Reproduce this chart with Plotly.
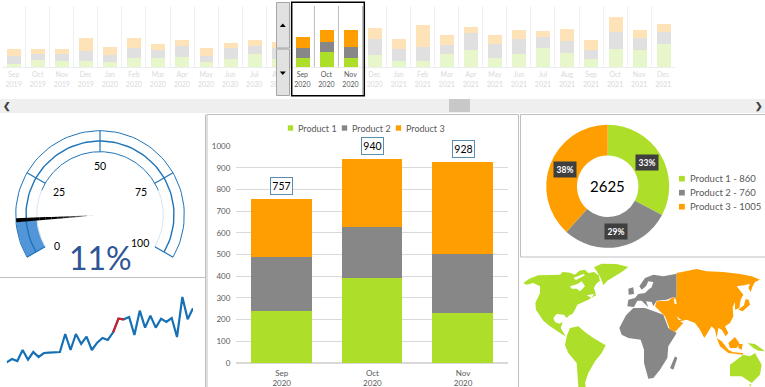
import numpy as np
import plotly.graph_objects as go

W, H = 765, 387
FONT = "Lato"

# ---------- data ----------
months = ["Sep", "Oct", "Nov", "Dec", "Jan", "Feb", "Mar", "Apr", "May", "Jun", "Jul", "Aug",
          "Sep", "Oct", "Nov", "Dec", "Jan", "Feb", "Mar", "Apr", "May", "Jun", "Jul", "Aug",
          "Sep", "Oct", "Nov", "Dec"]
years = [2019] * 4 + [2020] * 12 + [2021] * 12
product1 = [76, 178, 152, 152, 127, 228, 228, 254, 127, 203, 330, 203,
            240, 392, 228, 304, 152, 152, 330, 431, 228, 330, 482, 355, 203, 457, 431, 584]
product2 = [203, 152, 178, 254, 178, 254, 203, 279, 152, 279, 203, 279,
            250, 236, 274, 406, 305, 355, 228, 431, 355, 380, 279, 305, 228, 431, 305, 305]
product3 = [178, 127, 127, 330, 203, 254, 152, 152, 203, 127, 152, 152,
            267, 312, 426, 279, 254, 558, 254, 152, 228, 228, 152, 305, 254, 380, 203, 203]
selected = [12, 13, 14]
product_names = ["Product 1", "Product 2", "Product 3"]
gauge_value = 11
gauge_ticks = [0, 25, 50, 75, 100]
gauge_label_radius = [53, 47, 49, 47, 49]
gauge_label_value = [-2.5, 25, 50, 75, 102]
trend = [38, 48, 42, 75, 46, 69, 54, 66, 67, 68, 69, 123, 75, 123, 93, 115, 75, 97,
         111, 105, 128, 169, 167, 174, 120, 193, 142, 178, 142, 169, 159, 171, 114, 234, 167, 200]
trend_red = [20, 21, 22]

# world outline lists, x then y pairs on a 735 x 387 sheet
americas = [(10,75),(28,62),(55,52),(85,52),(120,50),(128,42),(150,44),(165,50),(178,38),(195,35),(205,45),(222,42),
            (236,52),(240,68),(228,78),(222,90),(228,112),(205,125),(190,132),(172,140),(165,155),(158,167),(148,172),
            (140,180),(132,170),(110,168),(100,180),(105,192),(118,197),(128,192),(122,210),(132,228),(137,235),(125,228),
            (105,215),(90,205),(70,188),(62,175),(48,155),(46,135),(60,105),(60,85),(40,75),(20,80)]
greenland = [(222,28),(245,17),(290,18),(325,27),(305,42),(285,55),(262,68),(250,82),(243,62),(232,42)]
south_america = [(150,210),(175,205),(195,222),(220,240),(257,262),(245,285),(225,310),(205,345),(195,375),(197,387),
                 (175,387),(172,340),(170,315),(145,285),(135,262),(140,235)]
australia = [(630,320),(670,290),(690,295),(705,285),(725,320),(720,350),(695,375),(665,355),(630,355)]
new_guinea = [(683,255),(705,258),(735,280),(715,278),(700,270)]
tasmania = [(688,378),(695,380),(690,386)]
africa = [(298,210),(318,172),(340,150),(375,150),(410,163),(430,170),(445,210),(470,225),(445,265),(442,300),
          (420,335),(400,360),(385,362),(372,315),(372,275),(362,245),(325,240),(305,230)]
madagascar = [(465,295),(472,300),(460,335),(450,330)]
europe = [(470,47),(430,55),(400,50),(375,60),(358,85),(365,95),(378,85),(385,70),(400,72),(395,88),(385,95),(375,105),
          (355,108),(345,120),(325,125),(322,145),(342,147),(352,128),(365,128),(385,148),(378,130),(395,132),(400,145),
          (410,128),(440,125),(458,118),(470,120)]
britain = [(325,92),(340,88),(342,108),(326,110)]
asia = [(470,45),(530,33),(560,40),(610,42),(660,48),(695,55),(720,65),(705,72),(698,85),(692,102),(685,90),(690,78),
        (672,82),(650,85),(662,100),(670,110),(662,125),(658,150),(645,155),(645,132),(638,148),(640,175),(630,195),
        (615,205),(625,225),(617,235),(605,215),(595,210),(590,240),(585,215),(575,205),(553,240),(540,215),(525,195),
        (500,185),(480,190),(490,195),(465,222),(450,215),(435,175),(425,165),(405,145),(410,130),(445,128),(458,118),(470,120)]
japan = [(677,123),(686,125),(690,140),(668,160),(655,155),(672,142)]
sumatra = [(590,240),(605,250),(625,275),(640,283),(670,285),(668,290),(625,285),(600,265)]
borneo = [(625,255),(645,237),(658,255),(650,270),(630,270)]
sulawesi = [(655,258),(668,258),(665,275),(655,270)]
hudson = [(150,85),(172,78),(185,70),(195,85),(180,100),(170,92),(155,92)]
st_lawrence = [(200,112),(222,108),(215,120)]
arctic_gap = [(160,60),(190,48),(195,52),(168,66)]
caspian = [(461,122),(467,122),(470,138),(464,138)]
gulf = [(470,175),(484,186),(476,186)]

# ---------- colours ----------
GREEN, GREY, ORANGE = "#ADDF2A", "#878787", "#FF9E00"
PALE = ["#E8F6CC", "#E0E0E0", "#FFE3B8"]
BLUE = "#1F74B8"
colors = [GREEN, GREY, ORANGE]
series = [product1, product2, product3]

fig = go.Figure()
shapes, annotations = [], []
axis_count = 0


def fx(px):
    return px / W


def fy(py):
    return 1 - py / H


def add_axes(x0, x1, y0, y1, xcfg=None, ycfg=None):
    """Create one x/y axis pair on the pixel box (y0 top, y1 bottom)."""
    global axis_count
    axis_count += 1
    s = "" if axis_count == 1 else str(axis_count)
    base = dict(visible=False, fixedrange=True)
    xa = dict(base, domain=[fx(x0), fx(x1)], anchor="y" + s)
    ya = dict(base, domain=[fy(y1), fy(y0)], anchor="x" + s)
    xa.update(xcfg or {})
    ya.update(ycfg or {})
    fig.update_layout({"xaxis" + s: xa, "yaxis" + s: ya})
    return "x" + s, "y" + s


def rect(x0, y0, x1, y1, fill=None, line=None, width=1, layer="above"):
    shapes.append(dict(type="rect", xref="paper", yref="paper", x0=fx(x0), x1=fx(x1), y0=fy(y1), y1=fy(y0),
                       fillcolor=fill or "rgba(0,0,0,0)", layer=layer,
                       line=dict(color=line or "rgba(0,0,0,0)", width=width if line else 0)))


def tri(cx_, cy_, up, color="#000000"):
    d = -1 if up else 1
    pts = [(cx_ - 3, cy_ - d * 1.5), (cx_ + 3, cy_ - d * 1.5), (cx_, cy_ + d * 2)]
    path = "M " + " L ".join(f"{fx(a):.5f} {fy(b):.5f}" for a, b in pts) + " Z"
    shapes.append(dict(type="path", xref="paper", yref="paper", path=path, fillcolor=color, line=dict(width=0),
                       layer="above"))


def text(x, y, s, size, color="#000000", xanchor="center", **kw):
    annotations.append(dict(xref="paper", yref="paper", x=fx(x), y=fy(y), text=s, showarrow=False,
                            xanchor=xanchor, yanchor="middle",
                            font=dict(family=FONT, size=size, color=color), **kw))


# ---------- panels ----------
rect(0, 99, W, 113, fill="#EFEFEF", layer="below")
rect(449, 99, 470, 112, fill="#C8C8C8", layer="below")
rect(207, 114.5, 518.5, 390, line="#BFBFBF", layer="below")
rect(520.5, 114.5, 770, 257, line="#BFBFBF", layer="below")
rect(-5, 277.5, 205.5, 392, line="#BFBFBF", layer="below")
shapes.append(dict(type="line", xref="paper", yref="paper", x0=fx(205.5), x1=fx(205.5), y0=fy(114.5), y1=fy(277.5),
                   line=dict(color="#BFBFBF", width=1), layer="below"))
text(7, 106, "<b>❮</b>", 9, "#404040")
text(759, 106, "<b>❯</b>", 9, "#404040")

# ---------- top strip ----------
n = len(months)
idx = list(range(n))
tick_text = [
    f'<span style="color:{"#595959" if i in selected else "#D9D9D9"}">{months[i]}<br>{years[i]}</span>' for i in idx
]
xs, ys = add_axes(1.6, 1.6 + n * 24.06, 6, 67,
                  dict(visible=True, range=[-0.5, n - 0.5], tickmode="array", tickvals=idx, ticktext=tick_text,
                       showgrid=False, zeroline=False, showline=True, linecolor="#EDEDED", ticks="",
                       tickfont=dict(family=FONT, size=7), tickangle=0, ticklabelstandoff=1,
                       minor=dict(tickmode="array", tickvals=[i - 0.5 for i in idx] + [n - 0.5], showgrid=True,
                                  gridcolor="#F0F0F0", gridwidth=1, ticks="")),
                  dict(range=[0, 1550]))
for name, vals, col, pale in zip(product_names, series, colors, PALE):
    fig.add_trace(go.Bar(x=idx, y=vals, name=name, xaxis=xs, yaxis=ys, width=0.58, showlegend=False,
                         marker=dict(color=[col if i in selected else pale for i in idx], line=dict(width=0)),
                         hoverinfo="skip"))
for b in (selected[0] + 0.5, selected[1] + 0.5, selected[2] + 0.5):
    shapes.append(dict(type="line", xref=xs, yref="paper", x0=b, x1=b, y0=fy(6), y1=fy(95 if b > selected[1] + 1 else 67),
                       line=dict(color="#BEBEBE", width=1), layer="above"))
rect(291.7, 2.3, 364.3, 95.7, line="#000000", width=1.5)
rect(276.5, 2.5, 289.5, 48, fill="#E1E1E1", line="#A6A6A6")
rect(276.5, 49, 289.5, 95.5, fill="#E1E1E1", line="#A6A6A6")
tri(282.8, 25.5, True)
tri(282.8, 73, False)

# ---------- gauge ----------
gx, gy = add_axes(0, 205, 114, 277, dict(range=[-100, 105]), dict(range=[-62, 101]))


def angle(v):
    return np.deg2rad(210 - 2.4 * np.asarray(v, dtype=float))


def arc(r, v0, v1, color, width):
    t = angle(np.linspace(v0, v1, 80))
    fig.add_trace(go.Scatter(x=r * np.cos(t), y=r * np.sin(t), mode="lines", xaxis=gx, yaxis=gy, showlegend=False,
                             line=dict(color=color, width=width), hoverinfo="skip"))


t_fill = angle(np.linspace(0, gauge_value, 20))
fig.add_trace(go.Scatter(x=np.r_[84 * np.cos(t_fill), 63.3 * np.cos(t_fill[::-1])],
                         y=np.r_[84 * np.sin(t_fill), 63.3 * np.sin(t_fill[::-1])],
                         mode="lines", fill="toself", fillcolor="#5295D8", line=dict(width=0), xaxis=gx, yaxis=gy,
                         showlegend=False, hoverinfo="skip"))
arc(84.3, 0, 100, BLUE, 1)
arc(74, 0, 100, BLUE, 1.4)
arc(63.3, 22, 78, BLUE, 1)
arc(63.3, 0, 22, "#D5E5F3", 1)
arc(63.3, 78, 100, "#D5E5F3", 1)
for v in gauge_ticks:
    t = float(angle(v))
    fig.add_trace(go.Scatter(x=[63.3 * np.cos(t), 84.3 * np.cos(t)], y=[63.3 * np.sin(t), 84.3 * np.sin(t)],
                             mode="lines", line=dict(color=BLUE, width=1.2), xaxis=gx, yaxis=gy, showlegend=False,
                             hoverinfo="skip"))
# needle: dark at the rim, fading to the hub
ta = float(angle(gauge_value))
dirx, diry = np.cos(ta), np.sin(ta)
edges = np.linspace(1, 84, 15)
for i in range(14):
    r0, r1 = edges[i], edges[i + 1]
    w0, w1 = r0 * 2 / 84, r1 * 2 / 84
    shade = int(max(0, 200 - 200 * min(1, r1 / 45)))
    fig.add_trace(go.Scatter(
        x=[r0 * dirx - w0 * diry, r1 * dirx - w1 * diry, r1 * dirx + w1 * diry, r0 * dirx + w0 * diry],
        y=[r0 * diry + w0 * dirx, r1 * diry + w1 * dirx, r1 * diry - w1 * dirx, r0 * diry - w0 * dirx],
        mode="lines", fill="toself", fillcolor=f"rgb({shade},{shade},{shade})", line=dict(width=0),
        xaxis=gx, yaxis=gy, showlegend=False, hoverinfo="skip"))
for v, lv, r in zip(gauge_ticks, gauge_label_value, gauge_label_radius):
    t = float(angle(lv))
    annotations.append(dict(xref=gx, yref=gy, x=r * np.cos(t), y=r * np.sin(t), text=str(v), showarrow=False,
                            font=dict(family=FONT, size=10.5, color="#000000")))
text(100, 257.5, f"{gauge_value}%", 32, "#2F5597")

# ---------- trend ----------
tx, ty = add_axes(20 / 3, 579 / 3, 275, 375, dict(range=[0, len(trend) - 1]), dict(range=[0, 300]))
fig.add_trace(go.Scatter(x=list(range(len(trend))), y=trend, mode="lines", xaxis=tx, yaxis=ty, showlegend=False,
                         line=dict(color="#1570B5", width=2.2), hoverinfo="skip"))
fig.add_trace(go.Scatter(x=trend_red, y=[trend[i] for i in trend_red], mode="lines", xaxis=tx, yaxis=ty,
                         showlegend=False, line=dict(color="#D0202E", width=2.2), hoverinfo="skip"))

# ---------- main stacked bars ----------
labels3 = [f"{months[i]}<br>{years[i]}" for i in selected]
mx, my = add_axes(236.4, 508.4, 146.3, 363,
                  dict(visible=True, type="category", categoryorder="array", categoryarray=labels3, showgrid=False,
                       showline=True, linecolor="#D9D9D9", ticks="", tickangle=0,
                       tickfont=dict(family=FONT, size=8, color="#595959"), ticklabelstandoff=2),
                  dict(visible=True, range=[0, 1000], dtick=100, showgrid=True, gridcolor="#D9D9D9", gridwidth=1,
                       zeroline=True, zerolinecolor="#D9D9D9", showline=False, ticks="",
                       tickfont=dict(family=FONT, size=8, color="#595959"), ticklabelstandoff=5))
for name, vals, col in zip(product_names, series, colors):
    fig.add_trace(go.Bar(x=labels3, y=[vals[i] for i in selected], name=name, xaxis=mx, yaxis=my, width=0.67,
                         marker=dict(color=col, line=dict(width=0)), showlegend=False, hoverinfo="skip"))
for lab, i in zip(labels3, selected):
    total = sum(v[i] for v in series)
    annotations.append(dict(xref=mx, yref=my, x=lab, y=total, yshift=13, text=str(total), showarrow=False,
                            bgcolor="#FFFFFF", bordercolor="#5B8DB0", borderwidth=1, borderpad=1, width=19, height=14,
                            font=dict(family=FONT, size=10.5, color="#000000")))
for name, col, sx in zip(product_names, colors, (290.5, 344.5, 398.5)):
    rect(sx - 2.7, 125.3, sx + 2.7, 130.7, fill=col)
    text(sx + 5.2, 128, name, 9, "#595959", xanchor="left")

# ---------- donut ----------
totals = [sum(v[i] for i in selected) for v in series]
grand = sum(totals)
cx, cy, R = 607.7, 186.3, 61.5
fig.add_trace(go.Pie(values=totals, labels=product_names, hole=0.5, sort=False, direction="clockwise", rotation=0,
                     textinfo="none", showlegend=False, hoverinfo="skip",
                     marker=dict(colors=colors, line=dict(width=0)),
                     domain=dict(x=[fx(cx - R), fx(cx + R)], y=[fy(cy + R), fy(cy - R)])))
text(cx, cy, str(grand), 15)
acc = 0
for name, v, col, ly in zip(product_names, totals, colors, (178.7, 192.7, 206.7)):
    mid = np.deg2rad((acc + v / 2) / grand * 360)
    acc += v
    text(cx + 46 * np.sin(mid), cy - 46 * np.cos(mid), f"<b>{round(v / grand * 100)}%</b>", 8.5, "#FFFFFF",
         bgcolor="#3F3F3F", width=20, height=13)
    rect(679, ly - 2.8, 684.8, ly + 2.8, fill=col)
    text(687.7, ly, f"{name} - {v}", 9.5, "#595959", xanchor="left")

# ---------- world map ----------
wx, wy = add_axes(520, 765, 258, 387, dict(range=[0, 735]), dict(range=[387, 0]))


def land(polys, color):
    xx, yy = [], []
    for p in polys:
        xx += [a for a, _ in p] + [p[0][0], None]
        yy += [b for _, b in p] + [p[0][1], None]
    fig.add_trace(go.Scatter(x=xx, y=yy, mode="lines", fill="toself", fillcolor=color, line=dict(width=0),
                             xaxis=wx, yaxis=wy, showlegend=False, hoverinfo="skip"))


land([americas, greenland, south_america, australia, new_guinea, tasmania], GREEN)
land([africa, madagascar, europe, britain], GREY)
land([asia, japan, sumatra, borneo, sulawesi], ORANGE)
land([hudson, st_lawrence, arctic_gap, caspian, gulf], "#FFFFFF")

fig.update_layout(width=W, height=H, autosize=False, margin=dict(l=0, r=0, t=0, b=0, autoexpand=False),
                  barmode="stack", bargap=0,
                  paper_bgcolor="#FFFFFF", plot_bgcolor="rgba(0,0,0,0)", font=dict(family=FONT), shapes=shapes,
                  annotations=annotations, showlegend=False)
fig.write_html("out.html", config=dict(displayModeBar=False, responsive=False),
               post_script="document.body.style.margin='0';document.body.style.overflow='hidden';")
